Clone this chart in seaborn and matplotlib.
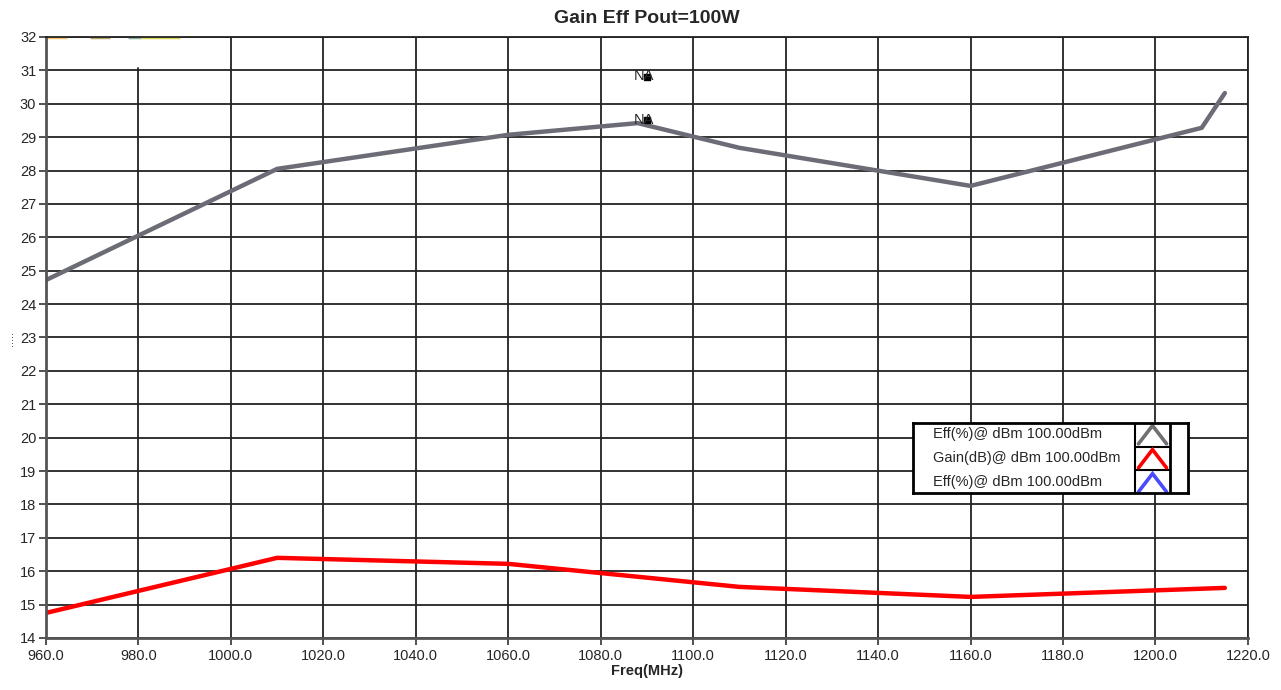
import matplotlib
matplotlib.use("Agg")
import matplotlib.pyplot as plt
import pandas as pd
import seaborn as sns

# Data
freq_eff = [960, 1010, 1060, 1088, 1110, 1160, 1210, 1215]
eff = [24.72, 28.05, 29.07, 29.42, 28.68, 27.54, 29.28, 30.32]
freq_gain = [960, 1010, 1060, 1110, 1160, 1215]
gain = [14.75, 16.40, 16.22, 15.53, 15.23, 15.50]

marker_freq = [1090, 1090]
marker_val = [30.80, 29.50]
marker_text = ["NA", "NA"]

# short clipped traces sitting on the top edge
stub_x = [[960, 964.5], [969.5, 973.8], [977.7, 980.5], [980.5, 989]]
stub_y = [[32, 32], [32, 32], [32, 32], [32, 32]]
stub_colors = ["#f3c36e", "#b9a46c", "#8fae9c", "#d6d852"]

legend_labels = ["Eff(%)@ dBm 100.00dBm", "Gain(dB)@ dBm 100.00dBm", "Eff(%)@ dBm 100.00dBm"]
legend_colors = ["#707070", "#ff0000", "#4a4aff"]

xticks = list(range(960, 1221, 20))
yticks = list(range(14, 33))

df_eff = pd.DataFrame({"Freq": freq_eff, "Val": eff})
df_gain = pd.DataFrame({"Freq": freq_gain, "Val": gain})

sns.set_style("white")
plt.rcParams["font.family"] = ["Liberation Sans", "DejaVu Sans"]

fig = plt.figure(figsize=(12.81, 6.9), dpi=100)
ax = fig.add_axes([0.0359, 0.0754, 0.9383, 0.871])

sns.lineplot(data=df_eff, x="Freq", y="Val", color="#6c6c76", linewidth=3.2, ax=ax,
             sort=False, estimator=None)
sns.lineplot(data=df_gain, x="Freq", y="Val", color="#ff0000", linewidth=3.2, ax=ax,
             sort=False, estimator=None)

for xs, ys, c in zip(stub_x, stub_y, stub_colors):
    ax.plot(xs, ys, color=c, linewidth=2.5, solid_capstyle="butt", clip_on=True)

ax.scatter(marker_freq, marker_val, color="black", s=14, marker="s", zorder=5)
for fx, fv, t in zip(marker_freq, marker_val, marker_text):
    ax.text(fx - 0.6, fv + 0.02, t, ha="center", va="center", fontsize=10.5, zorder=6)

ax.set_xlim(960, 1220)
ax.set_ylim(14, 32)
ax.set_xticks(xticks)
ax.set_xticklabels([f"{v:.1f}" for v in xticks])
ax.set_yticks(yticks)
ax.tick_params(axis="both", labelsize=10.5, length=5, width=1.2, color="#333333",
               direction="out", pad=2, bottom=True, left=True)
ax.tick_params(axis="x", pad=3)
ax.grid(True, color="#222222", linewidth=1.3)
ax.set_axisbelow(True)
for side in ["left", "bottom"]:
    ax.spines[side].set_color("#555555")
    ax.spines[side].set_linewidth(2)
for side in ["top", "right"]:
    ax.spines[side].set_color("#222222")
    ax.spines[side].set_linewidth(1.3)

fig.canvas.draw()
# the 980 grid line starts a bit below the top edge
ax.get_xgridlines()[1].set_ydata([0, (31.07 - 14) / 18])

ax.set_title("Gain Eff Pout=100W", fontsize=14, fontweight="bold", pad=10)
ax.set_xlabel("Freq(MHz)", fontsize=10.5, fontweight="bold", labelpad=1)
ax.set_ylabel("")
fig.text(0.004, 0.51, ".....", rotation=90, fontsize=8, ha="left", va="center")

# legend panel
lax = fig.add_axes([0.7127, 0.2855, 0.2147, 0.1014])
lax.set_xlim(0, 1)
lax.set_ylim(0, 1)
lax.set_xticks([])
lax.set_yticks([])
for s in lax.spines.values():
    s.set_linewidth(2)
    s.set_color("black")
lax.axvline(0.807, color="black", linewidth=1.5)
lax.axvline(0.9345, color="black", linewidth=2)
for yl in [0.329, 0.657]:
    lax.plot([0.807, 0.9345], [yl, yl], color="black", linewidth=1.5)
rows = [0.843, 0.5, 0.157]
for yc, lab, c in zip(rows, legend_labels, legend_colors):
    lax.text(0.073, yc, lab, ha="left", va="center", fontsize=10.5)
    lax.plot([0.82, 0.871, 0.922], [yc - 0.14, yc + 0.12, yc - 0.14], color=c,
             linewidth=2.6, solid_joinstyle="miter")

fig.savefig("out.png", dpi=100)
